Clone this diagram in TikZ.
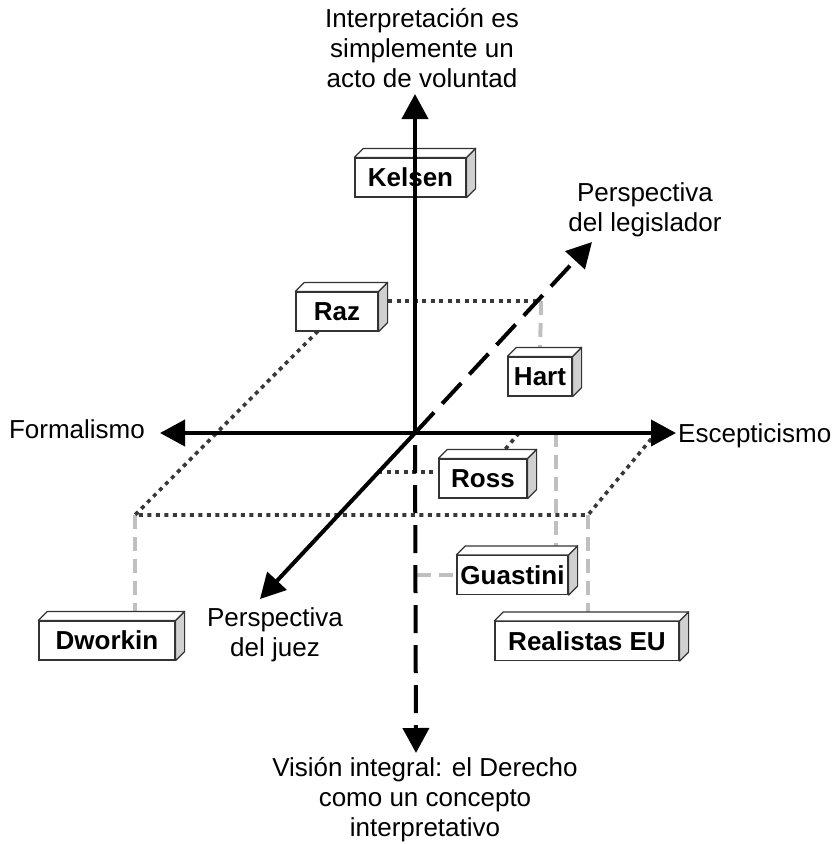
\documentclass[tikz,border=0pt]{standalone}
\usepackage{fontspec}
\setmainfont{Liberation Sans}
\usetikzlibrary{arrows.meta}

\definecolor{lateral}{HTML}{D0D0D0}
\definecolor{guiagris}{HTML}{C0C0C0}
\definecolor{punto}{HTML}{383838}

% caja 3D: nombre, centro, ancho, texto
\newcommand{\caja}[4]{%
	\node[autor, minimum width=#3] (#1) at (#2) {#4};
	\filldraw[cara, fill=lateral] (#1.north east) -- ++(9,-9) -- ([shift={(9,-9)}]#1.south east) -- (#1.south east) -- cycle;
	\filldraw[cara, fill=white] (#1.north west) -- ++(9,-9) -- ([shift={(9,-9)}]#1.north east) -- (#1.north east) -- cycle;
}

\begin{document}
\begin{tikzpicture}[x=1pt, y=-1pt,
	eje/.style={line width=4pt, -{Triangle[length=25pt, width=26pt]}},
	discontinuo/.style={dash pattern=on 28pt off 12pt},
	punteado/.style={draw=punto, line width=3.6pt, dash pattern=on 4pt off 4.5pt},
	guia/.style={draw=guiagris, line width=4pt, dash pattern=on 14pt off 8pt},
	autor/.style={draw=black!80, line width=1.2pt, fill=white, inner sep=0pt, minimum height=39pt, font=\fontsize{26}{30}\selectfont\bfseries},
	cara/.style={draw=black!80, line width=1.2pt, line join=round},
	etiqueta/.style={font=\fontsize{26}{30}\selectfont, align=center, inner sep=0pt}]
	\useasboundingbox (0,0) rectangle (835,844);

	% ejes
	\coordinate (O) at (415,433);
	\coordinate (tipN) at (415,94);
	\coordinate (tipS) at (416,753);
	\coordinate (tipW) at (160,433);
	\coordinate (tipE) at (676,433);
	\coordinate (tipNE) at (592,242);
	\coordinate (tipSW) at (260,599);

	% textos
	\node[etiqueta] (voluntad) at (422,48.5) {Interpretación es\\simplemente un\\acto de voluntad};
	\node[etiqueta, anchor=base east] (formalismo) at (145,438) {Formalismo};
	\node[etiqueta, anchor=base west] (escepticismo) at (678,442) {Escepticismo};
	\node[etiqueta] (legislador) at (645,210) {Perspectiva\\del legislador};
	\node[etiqueta] (juez) at (275,635) {Perspectiva\\del juez};
	\node[etiqueta] (integral) at (425,800) {Visión integral: el Derecho\\como un concepto\\interpretativo};

	% proyecciones
	\coordinate (pHart) at (541,301);
	\coordinate (esqA) at (135,515);
	\coordinate (esqB) at (588,515);
	\coordinate (esqC) at (652,438);
	\coordinate (pRoss) at (519,433);
	\coordinate (qRoss) at (378,472);
	\coordinate (pGuas) at (556,433);
	\coordinate (qGuas) at (417,575);

	\draw[guia] (pHart) -- (540,357);
	\draw[guia] (esqA) -- (135,621);
	\draw[guia] (esqB) -- (588,622);
	\draw[guia] (pGuas) -- (556,556);
	\draw[guia] (qGuas) -- (457,575);
	\draw[punteado] (388,301) -- (pHart);
	\draw[punteado] (318,331) -- (esqA) -- (esqB) -- (esqC);
	\draw[punteado] (pRoss) -- (497,459);
	\draw[punteado] (qRoss) -- (439,472);

	% autores
	\caja{Kelsen}{410.5,177.5}{111pt}{Kelsen}
	\caja{Raz}{337,311.5}{82pt}{Raz}
	\caja{Hart}{540,376.5}{64pt}{Hart}
	\caja{Ross}{483,478.5}{88pt}{Ross}
	\caja{Guastini}{512.5,575}{111pt}{Guastini}
	\caja{Realistas}{587,641}{184pt}{Realistas EU}
	\caja{Dworkin}{107,640.5}{136pt}{Dworkin}

	\draw[eje] (O) -- (tipN);
	\draw[eje] (O) -- (tipW);
	\draw[eje] (O) -- (tipE);
	\draw[eje] (O) -- (tipSW);
	\draw[eje, discontinuo] (O) -- (tipNE);
	\draw[eje, discontinuo, dash phase=28pt] (O) -- (tipS);
\end{tikzpicture}
\end{document}
